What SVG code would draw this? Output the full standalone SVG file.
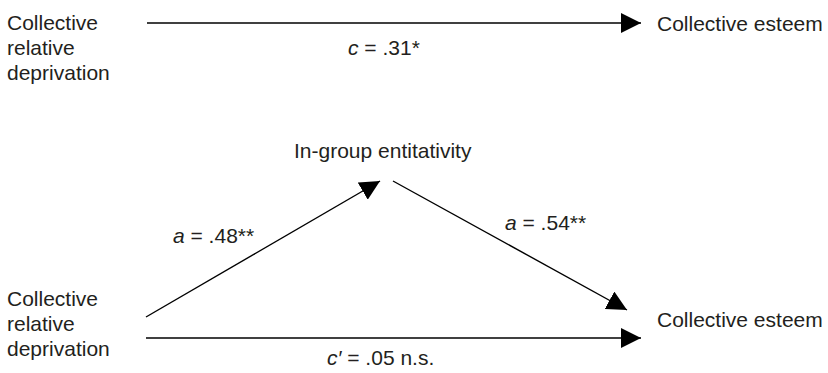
<svg xmlns="http://www.w3.org/2000/svg" width="828" height="373" viewBox="0 0 828 373">
<style>
text { font-family: "Liberation Sans", Arial, sans-serif; font-size: 21px; fill: #231f20; }
.edge { stroke: #000; stroke-width: 1.4; fill: none; marker-end: url(#ah); }
</style>
<defs>
<marker id="ah" markerUnits="userSpaceOnUse" markerWidth="20" markerHeight="20" refX="20" refY="10" orient="auto" viewBox="0 0 20 20">
<path d="M0,0 L20,10 L0,20 Z" fill="#000"/>
</marker>
</defs>
<rect width="828" height="373" fill="#fff"/>
<g id="crd-top">
<text x="7" y="29.5">Collective</text>
<text x="7" y="54.5">relative</text>
<text x="7" y="79.5">deprivation</text>
</g>
<g id="ce-top">
<text x="657" y="31">Collective esteem</text>
</g>
<g id="entitativity">
<text x="294" y="158">In-group entitativity</text>
</g>
<g id="crd-bottom">
<text x="7" y="306">Collective</text>
<text x="7" y="331">relative</text>
<text x="7" y="356">deprivation</text>
</g>
<g id="ce-bottom">
<text x="657" y="327">Collective esteem</text>
</g>
<g id="connectors">
<line class="edge" x1="147" y1="23" x2="641" y2="23"/>
<line class="edge" x1="146" y1="317" x2="380" y2="181"/>
<line class="edge" x1="393" y1="181" x2="627" y2="310"/>
<line class="edge" x1="146" y1="338" x2="641" y2="338"/>
<text x="348" y="55"><tspan font-style="italic">c</tspan> = .31*</text>
<text x="173" y="243"><tspan font-style="italic">a</tspan> = .48**</text>
<text x="505" y="230"><tspan font-style="italic">a</tspan> = .54**</text>
<text x="327" y="365"><tspan font-style="italic">c′</tspan> = .05 n.s.</text>
</g>
</svg>
